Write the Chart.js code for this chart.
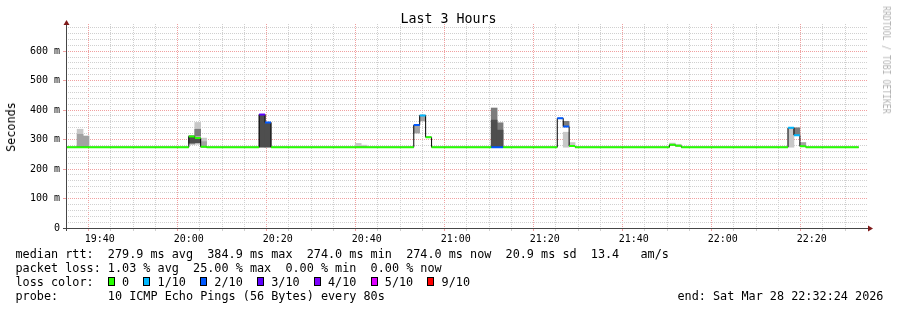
<!DOCTYPE html>
<html>
<head>
<meta charset="utf-8">
<title>Last 3 Hours</title>
<script src="https://cdn.jsdelivr.net/npm/chart.js@4.4.1/dist/chart.umd.min.js"></script>
<style>
  html, body { margin:0; padding:0; background:#ffffff; }
  #wrap { position:relative; width:897px; height:310px; overflow:hidden; background:#fff;
          font-family:"DejaVu Sans Mono", monospace; color:#000; }
  #chart { position:absolute; left:0; top:0; width:897px; height:310px; }
  .txt { position:absolute; white-space:pre; font-size:11.8px; line-height:14px; }
  .sw { display:inline-block; box-sizing:border-box; width:7px; height:9px; border:1px solid #000;
        vertical-align:middle; margin-right:calc(1ch - 7px); position:relative; top:-1px; }
  #title { position:absolute; left:0; top:11px; width:897px; text-align:center; font-size:13.3px; line-height:16px; white-space:pre; }
  #ylab { position:absolute; left:11px; top:127px; font-size:11.8px; line-height:14px; white-space:pre;
          transform:translate(-50%,-50%) rotate(-90deg); }
  #mark { position:absolute; left:886.5px; top:59.5px; font-size:10.4px; line-height:12px; color:#b4b4b4; white-space:pre;
          transform:translate(-50%,-50%) rotate(90deg) scaleX(0.78); }
</style>
</head>
<body>
<div id="wrap">
  <canvas id="chart" width="897" height="310"></canvas>
  <div id="title">Last 3 Hours</div>
  <div id="ylab">Seconds</div>
  <div id="mark">RRDTOOL / TOBI OETIKER</div>
  <div class="txt" style="left:15.5px;top:247px">median rtt:  279.9 ms avg  384.9 ms max  274.0 ms min  274.0 ms now  20.9 ms sd  13.4   am/s</div>
  <div class="txt" style="left:15.5px;top:261px">packet loss: 1.03 % avg  25.00 % max  0.00 % min  0.00 % now</div>
  <div class="txt" id="losstxt" style="left:15.5px;top:275px"></div>
  <div class="txt" style="left:15.5px;top:289px">probe:       10 ICMP Echo Pings (56 Bytes) every 80s</div>
  <div class="txt" style="left:677.5px;top:289px">end: Sat Mar 28 22:32:24 2026</div>
</div>
<script>
// ---------------- data ----------------
const lossLabels = ['0', '1/10', '2/10', '3/10', '4/10', '5/10', '9/10'];
const lossColors = ['#26ff00', '#00b8ff', '#0059ff', '#5e00ff', '#7e00ff', '#dd00ff', '#ff0000'];
const lossFrom   = [0, 1, 2, 3, 4, 5, 9];           // lowest lost-ping count of each colour band

const xMajorLabels = ['19:40', '20:00', '20:20', '20:40', '21:00', '21:20', '21:40', '22:00', '22:20'];
const yMajorLabels = ['0', '100 m', '200 m', '300 m', '400 m', '500 m', '600 m'];

const viewStart = '19:32:24';
const viewEnd   = '22:32:24';
const dataStart = '19:32:24';
const dataEnd   = '22:30:32';
const stepSec   = 80;
const baseRtt   = 274.0;   // ms, median outside the listed bins
const yMax      = 692;     // ms

// bins that differ from the quiet baseline
const binStart  = ['19:34:54', '19:36:14',
                   '20:00:00', '20:01:20', '20:02:40',
                   '20:15:48', '20:17:08',
                   '20:37:24', '20:38:44',
                   '20:50:33', '20:51:53', '20:53:13',
                   '21:07:57', '21:09:17',
                   '21:22:48', '21:24:08', '21:25:28',
                   '21:48:00', '21:49:20',
                   '22:14:39', '22:15:59', '22:17:19'];
const binMedian = [274, 274,  310, 305, 276,  384.9, 358,  274, 274,  349, 382, 308,
                   274, 274,  372, 344, 278,  282, 279,  340, 315, 277];
const binLost   = [0, 0,  0, 0, 0,  3, 2,  0, 0,  2, 1, 0,  2, 2,  2, 2, 0,  0, 0,  1, 1, 0];

// smoke bands [low, high] in ms, null = none
const smokeLight = [[274,335], null,  null, [284,358], [285,305],  null, null,  [274,287], [274,281],
                    null, null, null,  null, null,  null, [274,325], [280,290],  [282,288], [279,284],
                    [274,337], null, null];
const smokeMid   = [[274,318], [274,312],  [284,313], null, [274,293],  null, null,  null, null,
                    [322,346], [363,380], null,  null, null,  null, null, null,  null, null,
                    null, null, [280,290]];
const smokeMid2  = [null, null,  null, [312,335], null,  null, null,  null, null,
                    null, null, null,  [274,407], [274,357],  null, [346,362], null,  null, null,
                    null, [318,340], null];
const smokeDark  = [null, null,  [288,312], [289,304], null,  [274,385], [274,358],  null, null,
                    null, null, null,  [274,366], [274,332],  null, null, null,  null, null,
                    null, null, null];

// ---------------- helpers ----------------
function tm(s) { const p = s.split(':').map(Number); return p[0] * 60 + p[1] + (p[2] || 0) / 60; }
const stepMin = stepSec / 60;
const xMin = tm(viewStart), xMax = tm(viewEnd);
const xMajorVals = xMajorLabels.map(tm);
const xTickVals = [];
for (let v = Math.ceil(xMin / 5) * 5; v <= xMax; v += 5) xTickVals.push(v);
const yMajorVals = yMajorLabels.map(l => parseFloat(l));
const yTickVals = [];
for (let v = 0; v <= yMax; v += 20) yTickVals.push(v);
const isMajorX = c => !!(c && c.tick) && xMajorVals.some(m => Math.abs(m - c.tick.value) < 1e-6);
const isMajorY = c => !!(c && c.tick) && yMajorVals.some(m => Math.abs(m - c.tick.value) < 1e-6);
const bandOf = lost => { let k = 0; lossFrom.forEach((f, j) => { if (lost >= f) k = j; }); return k; };

// legend text
document.getElementById('losstxt').innerHTML = 'loss color:  ' +
  lossLabels.map((l, i) => '<span class="sw" style="background:' + lossColors[i] + '"></span> ' + l).join('  ');

// median step function
const steps = [];
let cur = tm(dataStart);
const tEnd = tm(dataEnd);
binStart.forEach((s, i) => {
  const t = tm(s);
  if (t > cur + 1e-6) steps.push({ t: cur, v: baseRtt, lost: 0 });
  steps.push({ t: t, v: binMedian[i], lost: binLost[i] });
  cur = t + stepMin;
});
if (cur < tEnd) steps.push({ t: cur, v: baseRtt, lost: 0 });

const blackData = steps.map(s => ({ x: s.t, y: s.v }));
blackData.push({ x: tEnd, y: steps[steps.length - 1].v });

const colorData = lossColors.map(() => []);
steps.forEach((s, i) => {
  const e = i + 1 < steps.length ? steps[i + 1].t : tEnd;
  const d = colorData[bandOf(s.lost)];
  d.push({ x: s.t, y: s.v }, { x: e, y: s.v }, { x: e, y: null });
});

// ---------------- datasets ----------------
const datasets = [];
[
  { band: smokeLight, color: '#c8c8c8', order: 5 },
  { band: smokeMid,   color: '#a2a2a2', order: 4 },
  { band: smokeMid2,  color: '#7c7c7c', order: 3 },
  { band: smokeDark,  color: '#4e4e4e', order: 2 }
].forEach(L => datasets.push({
  type: 'bar', order: L.order, backgroundColor: L.color, borderWidth: 0, grouped: false,
  categoryPercentage: 1, barPercentage: 1,
  data: L.band.map((b, i) => b ? { x: tm(binStart[i]) + stepMin / 2, y: [b[0], b[1]] } : null).filter(d => d)
}));
datasets.push({
  type: 'line', order: 1, data: blackData, borderColor: '#000000', borderWidth: 1,
  pointRadius: 0, stepped: true, fill: false, tension: 0
});
colorData.forEach((d, k) => {
  if (!d.length) return;
  datasets.push({
    type: 'line', order: 0, data: d, borderColor: lossColors[k], borderWidth: 2,
    pointRadius: 0, fill: false, tension: 0, spanGaps: false, borderCapStyle: 'butt'
  });
});

// ---------------- axes decoration ----------------
const axisPlugin = {
  id: 'rrdAxes',
  afterDatasetsDraw(chart) {
    const { ctx, chartArea: a } = chart;
    const xb = Math.round(a.bottom) + 0.5, yl = Math.round(a.left) + 0.5;
    ctx.save();
    ctx.strokeStyle = '#464646';
    ctx.lineWidth = 1;
    ctx.beginPath();
    ctx.moveTo(a.left - 3, xb); ctx.lineTo(a.right + 2, xb);
    ctx.moveTo(yl, a.bottom + 3); ctx.lineTo(yl, a.top - 1);
    ctx.stroke();
    ctx.fillStyle = '#7f1a1a';
    ctx.beginPath();
    ctx.moveTo(a.right + 1, xb - 3); ctx.lineTo(a.right + 6, xb); ctx.lineTo(a.right + 1, xb + 3);
    ctx.closePath(); ctx.fill();
    ctx.beginPath();
    ctx.moveTo(yl - 3, a.top + 1); ctx.lineTo(yl, a.top - 4); ctx.lineTo(yl + 3, a.top + 1);
    ctx.closePath(); ctx.fill();
    ctx.restore();
  }
};

const minorGrid = '#d0d0d0', majorGrid = '#f0a0a0';
const tickFont = { family: 'DejaVu Sans Mono', size: 10 };

new Chart(document.getElementById('chart'), {
  type: 'line',
  data: { datasets },
  options: {
    responsive: false, animation: false, devicePixelRatio: 1, events: [],
    layout: { padding: { top: 24, right: 30, bottom: 0, left: 0 } },
    plugins: { legend: { display: false }, tooltip: { enabled: false }, title: { display: false } },
    scales: {
      x: {
        type: 'linear', min: xMin, max: xMax, offset: false,
        afterFit: s => { s.height = 82; },
        afterBuildTicks: s => { s.ticks = xTickVals.map(v => ({ value: v })); },
        ticks: {
          autoSkip: false, maxRotation: 0, minRotation: 0, padding: 2, font: tickFont, color: '#000',
          callback: v => { const i = xMajorVals.findIndex(m => Math.abs(m - v) < 1e-6); return i >= 0 ? xMajorLabels[i] : ''; }
        },
        grid: {
          color: c => isMajorX(c) ? majorGrid : minorGrid,
          tickColor: c => isMajorX(c) ? majorGrid : minorGrid,
          tickLength: 3, lineWidth: 1, drawTicks: true
        },
        border: { display: false, dash: [1, 1] }
      },
      y: {
        type: 'linear', min: 0, max: yMax,
        afterFit: s => { s.width = 66; },
        afterBuildTicks: s => { s.ticks = yTickVals.map(v => ({ value: v })); },
        ticks: {
          autoSkip: false, padding: 3, font: tickFont, color: '#000',
          callback: v => { const i = yMajorVals.findIndex(m => Math.abs(m - v) < 1e-6); return i >= 0 ? yMajorLabels[i] : ''; }
        },
        grid: {
          color: c => isMajorY(c) ? majorGrid : minorGrid,
          tickColor: c => isMajorY(c) ? majorGrid : 'rgba(0,0,0,0)',
          tickLength: 3, lineWidth: 1, drawTicks: true
        },
        border: { display: false, dash: [1, 1] }
      }
    }
  },
  plugins: [axisPlugin]
});
</script>
</body>
</html>
